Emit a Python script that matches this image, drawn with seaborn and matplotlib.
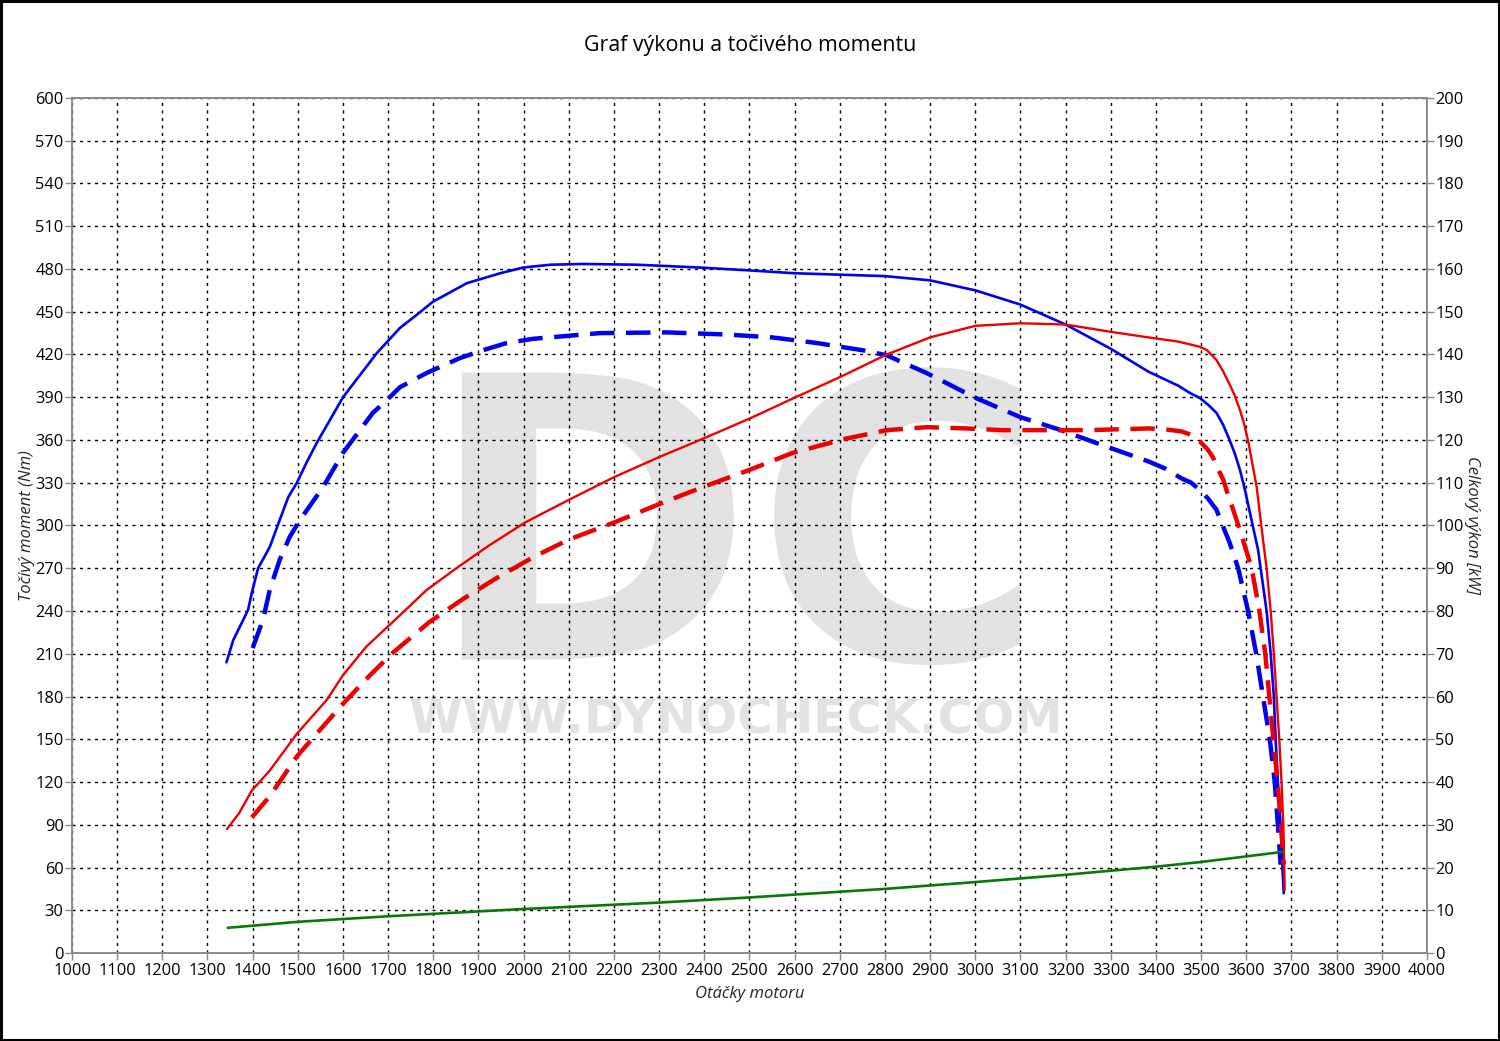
import numpy as np
import pandas as pd
import matplotlib
matplotlib.use("Agg")
import matplotlib.pyplot as plt
import seaborn as sns
from matplotlib.textpath import TextPath
from matplotlib.patches import PathPatch, Rectangle
from matplotlib.transforms import Affine2D
from matplotlib.font_manager import FontProperties

# ---------------- data ----------------
torque_tuned_rpm = [1342, 1357, 1379, 1390, 1398, 1412, 1438, 1460, 1479, 1498, 1519, 1542, 1600, 1675,
                    1726, 1764, 1799, 1874, 1948, 1999, 2060, 2131, 2250, 2390, 2500, 2600, 2700, 2800,
                    2900, 3000, 3100, 3200, 3300, 3383, 3450, 3475, 3497, 3516, 3534, 3549, 3563, 3574,
                    3586, 3597, 3608, 3626, 3645, 3654, 3661, 3665, 3670, 3676, 3680, 3683]
torque_tuned_nm = [204, 219.6, 233.7, 241, 252.6, 270, 285, 304, 320, 330, 344, 358, 390, 421,
                   438.6, 448, 457, 470, 477, 481, 483, 483.5, 483, 481, 479, 477, 476, 475,
                   472, 465, 455, 441, 424, 408, 398, 393, 389.5, 384.6, 379, 370.5, 360, 351,
                   339, 325, 309, 283, 240, 210, 180, 150, 120, 90, 60, 42]

torque_stock_rpm = [1400, 1423, 1438, 1460, 1482, 1505, 1556, 1600, 1666, 1697, 1726, 1785, 1859, 1910,
                    1962, 2021, 2169, 2317, 2450, 2550, 2650, 2750, 2803, 2892, 3001, 3100, 3189, 3267,
                    3383, 3420, 3457, 3478, 3497, 3515, 3534, 3549, 3563, 3582, 3604, 3622, 3637, 3652,
                    3663, 3670, 3676]
torque_stock_nm = [214, 234, 255, 276, 292, 304, 327, 351, 379, 388, 397, 407, 417.5, 423,
                   428, 431, 435, 435.5, 434, 432, 428, 423, 419.5, 407, 389.5, 376, 367, 358,
                   345, 340, 333, 330, 325, 319, 311, 299, 288, 270, 240, 210, 180, 150,
                   120, 90, 62]

power_tuned_rpm = [1343, 1370, 1398, 1438, 1498, 1564, 1600, 1652, 1726, 1785, 1855, 1923, 2003, 2100,
                   2200, 2300, 2397, 2500, 2596, 2700, 2804, 2900, 3000, 3100, 3200, 3300, 3383, 3450,
                   3497, 3513, 3534, 3549, 3563, 3574, 3586, 3596, 3605, 3623, 3637, 3645, 3654, 3661,
                   3667, 3673, 3678, 3682, 3684, 3685]
power_tuned_kw = [29.0, 32.7, 38.0, 42.7, 51.3, 59.2, 65.0, 71.7, 79.0, 84.9, 90.3, 95.3, 100.7, 106.0,
                  111.3, 116.0, 120.3, 125.0, 129.7, 134.7, 140.0, 144.0, 146.7, 147.3, 147.0, 145.3, 144.0, 143.0,
                  141.8, 141.0, 138.7, 136.0, 133.0, 130.5, 127.0, 123.5, 119.3, 109.0, 96.7, 90.0, 80.0, 70.0,
                  60.0, 50.0, 40.0, 30.0, 20.0, 14.7]

power_stock_rpm = [1398, 1438, 1498, 1550, 1600, 1660, 1711, 1790, 1864, 1940, 2023, 2100, 2200, 2300,
                   2397, 2500, 2596, 2713, 2804, 2893, 2980, 3061, 3150, 3250, 3383, 3420, 3457, 3478,
                   3497, 3515, 3526, 3537, 3549, 3560, 3571, 3590, 3612, 3629, 3642, 3651, 3660, 3669,
                   3677, 3683]
power_stock_kw = [31.7, 36.7, 46.0, 52.3, 58.3, 65.0, 70.3, 77.3, 82.7, 87.7, 92.7, 96.7, 100.7, 105.0,
                  109.0, 113.0, 117.0, 120.3, 122.3, 123.0, 122.7, 122.3, 122.3, 122.3, 122.7, 122.5, 122.0, 121.2,
                  119.7, 117.7, 116.0, 113.3, 110.7, 107.0, 103.7, 97.5, 90.0, 80.0, 70.0, 60.0, 50.0, 40.0,
                  30.0, 20.7]

loss_rpm = [1345, 1500, 1700, 2000, 2300, 2500, 2800, 3000, 3200, 3400, 3500, 3600, 3683]
loss_kw = [5.9, 7.3, 8.6, 10.3, 11.8, 13.0, 15.0, 16.6, 18.3, 20.2, 21.3, 22.6, 23.7]

x_ticks = list(range(1000, 4001, 100))
y_left_ticks = list(range(0, 601, 30))
y_right_ticks = list(range(0, 201, 10))

title = "Graf výkonu a točivého momentu"
xlabel = "Otáčky motoru"
ylabel_left = "Točivý moment (Nm)"
ylabel_right = "Celkový výkon [kW]"

# ---------------- style ----------------
sns.set_theme(style="white")
plt.rcParams["font.family"] = ["Open Sans", "DejaVu Sans"]

BLUE = "#0000f0"
RED = "#ee0000"
GREEN = "#08780a"
SPINE = "#8a8a8a"
TICK_FS = 11.8
LABEL_FS = 12.0

fig = plt.figure(figsize=(15, 10.41), dpi=100)
ax = fig.add_axes([0.048, 0.0845, 0.9033, 0.8214])
ax2 = ax.twinx()

# watermark
def watermark(text, x0, x1, y0, y1, color):
    tp = TextPath((0, 0), text, size=100, prop=FontProperties(family="DejaVu Sans", weight="bold"))
    ext = tp.get_extents()
    tr = (Affine2D().translate(-ext.x0, -ext.y0)
          .scale((x1 - x0) / ext.width, (y1 - y0) / ext.height)
          .translate(x0, y0))
    p = PathPatch(tr.transform_path(tp), facecolor=color, edgecolor="none", zorder=0.2)
    ax.add_patch(p)

watermark("DC", 1863, 3099, 202, 411, "#e2e2e2")
watermark("WWW.DYNOCHECK.COM", 1750, 3183, 154, 179, "#e2e2e2")

# lines
dash = (0, (5.5, 2.6))
common = dict(estimator=None, errorbar=None, sort=False, zorder=3)
sns.lineplot(x=torque_tuned_rpm, y=torque_tuned_nm, ax=ax, color=BLUE, lw=1.9, **common)
sns.lineplot(x=torque_stock_rpm, y=torque_stock_nm, ax=ax, color=BLUE, lw=3.2, linestyle=dash, **common)
sns.lineplot(x=power_tuned_rpm, y=power_tuned_kw, ax=ax2, color=RED, lw=1.7, **common)
sns.lineplot(x=power_stock_rpm, y=power_stock_kw, ax=ax2, color=RED, lw=3.2, linestyle=dash, **common)
sns.lineplot(x=loss_rpm, y=loss_kw, ax=ax2, color=GREEN, lw=1.9, **common)
for line in ax.get_lines() + ax2.get_lines():
    line.set_solid_joinstyle("round")
    line.set_dash_joinstyle("round")

# axes
ax.set_xlim(1000, 4000)
ax.set_ylim(0, 600)
ax2.set_ylim(0, 200)
ax.set_xticks(x_ticks)
ax.set_yticks(y_left_ticks)
ax2.set_yticks(y_right_ticks)
ax.set_xticklabels([str(t) for t in x_ticks])
ax.grid(True, which="major", color="black", linestyle=(0, (2.2, 3.2)), linewidth=1.0)
ax2.grid(False)

for a in (ax, ax2):
    for s in a.spines.values():
        s.set_color(SPINE)
        s.set_linewidth(1.2)

ax.tick_params(axis="both", which="major", direction="out", length=5, width=1, color=SPINE,
               labelsize=TICK_FS, labelcolor="black", pad=1)
ax.tick_params(axis="x", pad=2.5, bottom=True)
ax.tick_params(axis="y", left=True)
ax2.tick_params(axis="y", direction="out", length=5, width=1, color=SPINE, right=True,
                labelsize=TICK_FS, labelcolor="black", pad=1)

ax.set_xlabel(xlabel, fontsize=LABEL_FS, style="italic", va="center")
ax.set_ylabel(ylabel_left, fontsize=LABEL_FS, style="italic", va="center")
ax2.set_ylabel(ylabel_right, fontsize=LABEL_FS, style="italic", rotation=-90, va="center")
ax.xaxis.set_label_coords(0.5, -0.048)
ax.yaxis.set_label_coords(-0.0335, 0.5)
ax2.yaxis.set_label_coords(1.0335, 0.5)

fig.text(0.5, 0.956, title, ha="center", va="center", fontsize=15.4, color="black")

fig.patches.append(Rectangle((0.0007, 0.001), 0.9986, 0.998, transform=fig.transFigure,
                             fill=False, edgecolor="black", linewidth=2.2, zorder=10))

fig.savefig("out.png", dpi=100, facecolor="white")
